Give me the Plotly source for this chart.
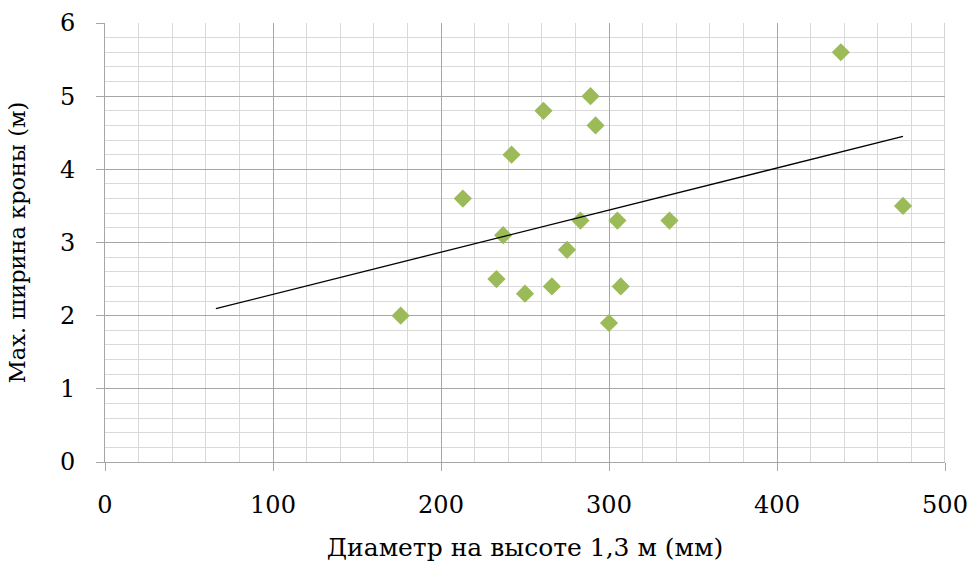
import numpy as np
import plotly.graph_objects as go

# Data
diameter_mm = [176, 213, 237, 233, 250, 242, 261, 266, 275, 283, 289, 292, 300, 305, 307, 336, 438, 475]
crown_width_m = [2.0, 3.6, 3.1, 2.5, 2.3, 4.2, 4.8, 2.4, 2.9, 3.3, 5.0, 4.6, 1.9, 3.3, 2.4, 3.3, 5.6, 3.5]
x_ticks = [0, 100, 200, 300, 400, 500]
y_ticks = [0, 1, 2, 3, 4, 5, 6]
trend_backward = 110  # linear trend extended backward (Excel-style forecast)

x = np.array(diameter_mm, dtype=float)
y = np.array(crown_width_m, dtype=float)
slope, intercept = np.polyfit(x, y, 1)
tx = np.array([x.min() - trend_backward, x.max()])
ty = slope * tx + intercept

FONT = "DejaVu Serif"
major = "#a6a6a6"
minor = "#d9d9d9"

fig = go.Figure()
fig.add_trace(go.Scatter(x=x, y=y, mode="markers",
                         marker=dict(symbol="diamond", size=14, color="#9bbb59",
                                     line=dict(width=0)),
                         showlegend=False))
fig.add_trace(go.Scatter(x=tx, y=ty, mode="lines",
                         line=dict(color="#000000", width=1.3),
                         showlegend=False))

fig.update_layout(
    width=972, height=563,
    margin=dict(l=105, r=27, t=23, b=101),
    paper_bgcolor="white", plot_bgcolor="white",
    font=dict(family=FONT, size=24, color="#000000"),
    xaxis=dict(range=[0, 500], tickvals=x_ticks, showgrid=True, gridcolor=major,
               gridwidth=1, zeroline=False, showline=True, linecolor=major,
               ticks="outside", ticklen=8, tickcolor=major, ticklabelstandoff=13,
               tickfont=dict(size=24), automargin=False,
               minor=dict(dtick=20, showgrid=True, gridcolor=minor, gridwidth=1),
               title=dict(text="Диаметр на высоте 1,3 м (мм)", standoff=20,
                          font=dict(family=FONT, size=25)),
               fixedrange=True),
    yaxis=dict(range=[0, 6], tickvals=y_ticks, showgrid=True, gridcolor=major,
               gridwidth=1, zeroline=False, showline=True, linecolor=major,
               ticks="outside", ticklen=8, tickcolor=major, ticklabelstandoff=16,
               tickfont=dict(size=24), automargin=False,
               minor=dict(dtick=0.2, showgrid=True, gridcolor=minor, gridwidth=1),
               title=dict(text="Max. ширина кроны (м)", standoff=28,
                          font=dict(family=FONT, size=22.5)),
               fixedrange=True),
)
fig.add_shape(type="line", xref="x", yref="y", x0=500, x1=500, y0=0, y1=6,
              line=dict(color=major, width=1), layer="below")

fig.write_html("out.html", config={"displayModeBar": False},
               post_script="document.body.style.margin='0';")
